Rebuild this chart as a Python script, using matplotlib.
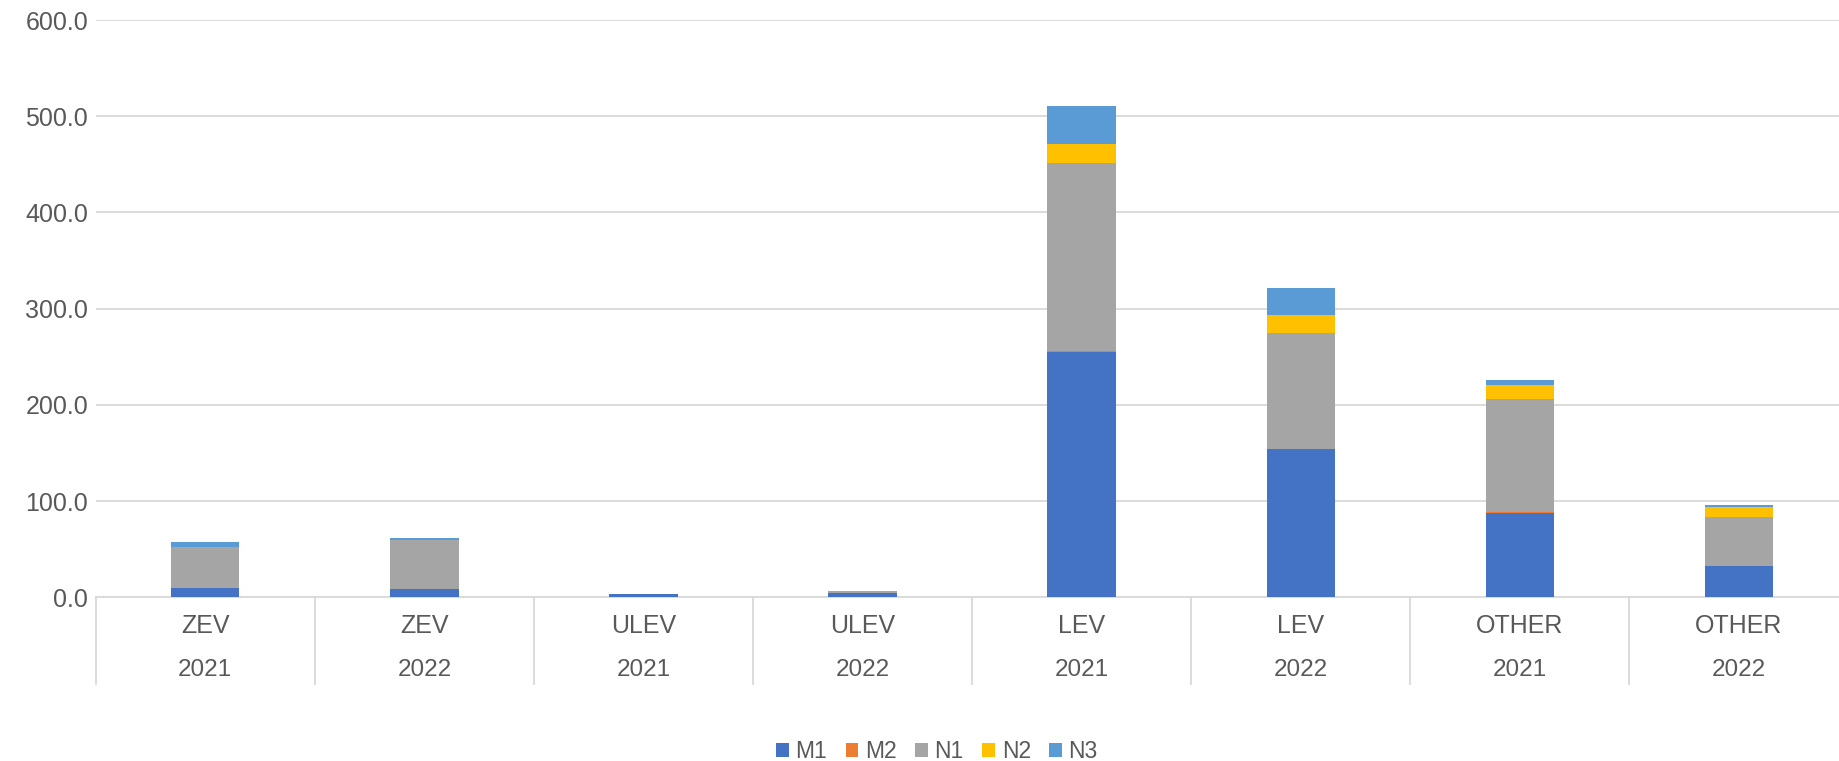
import matplotlib
matplotlib.use("Agg")
import matplotlib.pyplot as plt
from matplotlib.patches import Patch
import matplotlib.transforms as mtransforms

categories = ["ZEV", "ZEV", "ULEV", "ULEV", "LEV", "LEV", "OTHER", "OTHER"]
years = ["2021", "2022", "2021", "2022", "2021", "2022", "2021", "2022"]
series_names = ["M1", "M2", "N1", "N2", "N3"]
M1 = [10.0, 8.2, 3.0, 4.8, 255.3, 154.0, 88.0, 32.7]
M2 = [0.0, 0.0, 0.0, 0.0, 0.3, 0.2, 0.4, 0.1]
N1 = [42.6, 51.3, 0.6, 1.8, 195.4, 120.1, 117.4, 51.0]
N2 = [0.0, 0.4, 0.0, 0.1, 20.5, 19.5, 15.0, 9.7]
N3 = [4.4, 2.2, 0.1, 0.2, 38.8, 27.7, 5.5, 2.5]
yticks = [0, 100, 200, 300, 400, 500, 600]

colors = ["#4472C4", "#ED7D31", "#A5A5A5", "#FFC000", "#5B9BD5"]
text_color = "#595959"
grid_color = "#D9D9D9"

plt.rcParams['font.family'] = ['Liberation Sans', 'DejaVu Sans']

W, H = 1839, 761
fig = plt.figure(figsize=(W / 100, H / 100), dpi=100)
left_px, right_px, top_px, bottom_px = 95.7, 95.7 + 8 * 219.1, 20.0, 597.3
ax = fig.add_axes([left_px / W, 1 - bottom_px / H, (right_px - left_px) / W, (bottom_px - top_px) / H])

x = [i + 0.5 for i in range(len(categories))]
bottoms = [0.0] * len(categories)
for name, vals, c in zip(series_names, [M1, M2, N1, N2, N3], colors):
    ax.bar(x, vals, width=0.312, bottom=bottoms, color=c, edgecolor="none",
           linewidth=0, zorder=3)
    bottoms = [b + v for b, v in zip(bottoms, vals)]

ax.set_xlim(0, len(categories))
ax.set_ylim(0, 600)
ax.set_yticks(yticks)
ax.set_yticklabels([f"{v:.1f}" for v in yticks])
ax.yaxis.grid(True, color=grid_color, linewidth=1.3, zorder=0)
ax.set_axisbelow(True)
for s in ["top", "right", "left"]:
    ax.spines[s].set_visible(False)
ax.spines["bottom"].set_color(grid_color)
ax.spines["bottom"].set_linewidth(1.3)
ax.tick_params(axis="y", length=0, pad=5.5, labelsize=18, labelcolor=text_color)
ax.set_xticks([])

# Multi-level category axis
trans = mtransforms.blended_transform_factory(ax.transData, ax.transAxes)
axh = bottom_px - top_px
y_sep_end = -(684 - bottom_px) / axh
y_cat = -(626 - bottom_px) / axh
y_year = -(670 - bottom_px) / axh
for i in range(len(categories)):
    ax.plot([i, i], [0, y_sep_end], transform=trans, color=grid_color,
            linewidth=1.3, clip_on=False)
for xi, c, yr in zip(x, categories, years):
    ax.text(xi, y_cat, c, transform=trans, ha="center", va="center",
            fontsize=18, color=text_color)
    ax.text(xi, y_year, yr, transform=trans, ha="center", va="center",
            fontsize=17.5, color=text_color)

handles = [Patch(facecolor=c, edgecolor="none", label=n) for n, c in zip(series_names, colors)]
fig.legend(handles=handles, loc="center", bbox_to_anchor=(937 / W, 1 - 752 / H),
           ncol=5, frameon=False, fontsize=16.5, labelcolor=text_color,
           handlelength=0.55, handleheight=0.55, handletextpad=0.3, columnspacing=0.8)

fig.savefig("out.png", dpi=100)
